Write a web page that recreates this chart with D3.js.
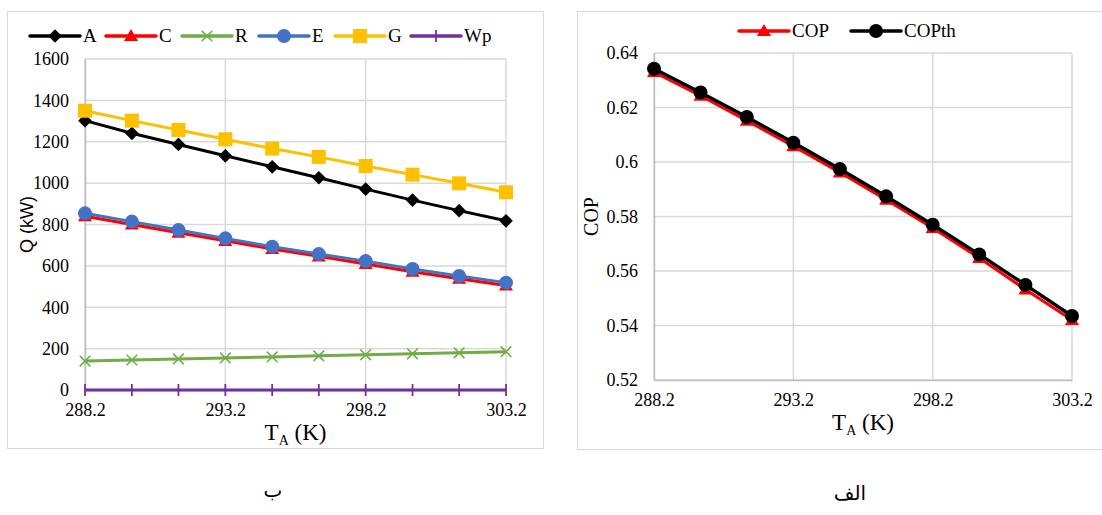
<!DOCTYPE html>
<html>
<head>
<meta charset="utf-8">
<script src="https://cdn.jsdelivr.net/npm/d3@7"></script>
<style>
  body { margin: 0; background: #fff; }
  svg { display: block; }
</style>
</head>
<body>
<svg width="1102" height="515"></svg>
<script>
// temperatures (K)
var temps = [288.2, 289.87, 291.53, 293.2, 294.87, 296.53, 298.2, 299.87, 301.53, 303.2];

// left chart (Q, kW)
var qA  = [1302, 1241, 1187, 1132, 1079, 1026, 971, 918, 867, 818];
var qC  = [840, 800, 760, 721, 682, 646, 609, 572, 538, 505];
var qR  = [140, 145, 150, 155, 160, 165, 170, 175, 180, 185];
var qE  = [854, 814, 773, 733, 693, 657, 623, 585, 551, 519];
var qG  = [1350, 1302, 1257, 1212, 1167, 1127, 1083, 1041, 999, 956];
var qWp = [0, 0, 0, 0, 0, 0, 0, 0, 0, 0];
var qTicks = [0, 200, 400, 600, 800, 1000, 1200, 1400, 1600];

// right chart (COP)
var cop   = [0.633, 0.6243, 0.6152, 0.6058, 0.5962, 0.5862, 0.5758, 0.5648, 0.5532, 0.5420];
var copTh = [0.6342, 0.6255, 0.6165, 0.6071, 0.5974, 0.5874, 0.5770, 0.5661, 0.5549, 0.5435];
var copTicks = [0.52, 0.54, 0.56, 0.58, 0.6, 0.62, 0.64];

var xTicks = [288.2, 293.2, 298.2, 303.2];

var svg = d3.select("svg");
var serif = '"Liberation Serif", "Times New Roman", serif';

// outer frames
svg.append("rect").attr("x", 7.5).attr("y", 11.5).attr("width", 536).attr("height", 437)
  .attr("fill", "none").attr("stroke", "#d9d9d9");
svg.append("rect").attr("x", 577.5).attr("y", 11.5).attr("width", 540).attr("height", 438)
  .attr("fill", "none").attr("stroke", "#d9d9d9");

function marker(g, type, color, x, y) {
  if (type == "diamond") {
    g.append("path").attr("d", d3.symbol().type(d3.symbolDiamond2).size(120)())
      .attr("transform", "translate(" + x + "," + y + ")").attr("fill", color);
  } else if (type == "triangle") {
    g.append("path").attr("d", d3.symbol().type(d3.symbolTriangle).size(85)())
      .attr("transform", "translate(" + x + "," + (y + 1) + ")").attr("fill", color);
  } else if (type == "x") {
    g.append("path").attr("d", d3.symbol().type(d3.symbolTimes).size(75)())
      .attr("transform", "translate(" + x + "," + y + ")").attr("fill", "none")
      .attr("stroke", color).attr("stroke-width", 1.6);
  } else if (type == "circle") {
    g.append("circle").attr("cx", x).attr("cy", y).attr("r", 7).attr("fill", color);
  } else if (type == "square") {
    g.append("rect").attr("x", x - 7).attr("y", y - 7).attr("width", 14).attr("height", 14).attr("fill", color);
  } else if (type == "plus") {
    g.append("path").attr("d", "M" + x + "," + (y - 6) + "V" + (y + 6))
      .attr("stroke", color).attr("stroke-width", 1.8);
  }
}

function styleAxis(a) {
  a.select(".domain").attr("stroke", "#bfbfbf").attr("stroke-width", 1.5);
  a.selectAll(".tick text")
    .style("font-family", serif)
    .style("font-size", "18px")
    .style("fill", "#000");
}

function drawChart(opt) {
  var xs = d3.scaleLinear().domain([288.2, 303.2]).range([opt.left, opt.right]);
  var ys = d3.scaleLinear().domain(opt.ydomain).range([opt.bottom, opt.top]);
  var g = svg.append("g");

  // gridlines
  g.selectAll(".hg").data(opt.yticks).enter().append("line")
    .attr("x1", opt.left).attr("x2", opt.right)
    .attr("y1", d => ys(d)).attr("y2", d => ys(d))
    .attr("stroke", "#d9d9d9").attr("stroke-width", 1.5);
  g.selectAll(".vg").data(xTicks).enter().append("line")
    .attr("x1", d => xs(d)).attr("x2", d => xs(d))
    .attr("y1", opt.top).attr("y2", opt.bottom)
    .attr("stroke", "#d9d9d9").attr("stroke-width", 1.5);

  // axes
  var ya = g.append("g").attr("transform", "translate(" + opt.left + ",0)")
    .call(d3.axisLeft(ys).tickValues(opt.yticks).tickSize(0).tickPadding(16).tickFormat(opt.yfmt));
  styleAxis(ya);
  var xa = g.append("g").attr("transform", "translate(0," + opt.bottom + ")")
    .call(d3.axisBottom(xs).tickValues(xTicks).tickSize(0).tickPadding(13).tickFormat(d3.format(".1f")));
  styleAxis(xa);

  // series
  opt.series.forEach(function(s) {
    g.append("path").datum(s.values)
      .attr("fill", "none").attr("stroke", s.color).attr("stroke-width", s.width || 3)
      .attr("d", d3.line().x((d, i) => xs(temps[i])).y(d => ys(d)));
    s.values.forEach(function(v, i) { marker(g, s.marker, s.color, xs(temps[i]), ys(v)); });
  });

  // x label
  var xl = g.append("text").attr("x", (opt.left + opt.right) / 2).attr("y", opt.bottom + 50)
    .attr("text-anchor", "middle").style("font-family", serif).style("font-size", "23px");
  xl.append("tspan").text("T");
  xl.append("tspan").style("font-size", "14px").attr("dy", 5).text("A");
  xl.append("tspan").attr("dy", -5).text(" (K)");

  // y label
  g.append("text").attr("transform", "translate(" + opt.ylabelX + "," + ((opt.top + opt.bottom) / 2) + ") rotate(-90)")
    .attr("text-anchor", "middle").style("font-family", opt.ylabelFont).style("font-size", opt.ylabelSize).text(opt.ylabel);

  // legend
  var lg = g.append("g");
  opt.series.forEach(function(s, i) {
    var lx = opt.legendX[i], ly = opt.legendY;
    lg.append("line").attr("x1", lx).attr("x2", lx + 50).attr("y1", ly).attr("y2", ly)
      .attr("stroke", s.color).attr("stroke-width", 3.5).attr("stroke-linecap", "round");
    marker(lg, s.marker, s.color, lx + 25, ly);
    lg.append("text").attr("x", lx + 53).attr("y", ly + 6).style("font-family", serif)
      .style("font-size", "19px").text(s.name);
  });
}

drawChart({
  left: 85, right: 506, top: 59, bottom: 390,
  ydomain: [0, 1600], yticks: qTicks, yfmt: d3.format("d"),
  ylabel: "Q (kW)", ylabelX: 33, ylabelFont: '"Liberation Sans", Arial, sans-serif', ylabelSize: "18px",
  legendX: [30, 106, 182, 259, 335, 411], legendY: 36,
  series: [
    { name: "A", values: qA, color: "#000000", marker: "diamond" },
    { name: "C", values: qC, color: "#ff0000", marker: "triangle" },
    { name: "R", values: qR, color: "#70ad47", marker: "x" },
    { name: "E", values: qE, color: "#4472c4", marker: "circle" },
    { name: "G", values: qG, color: "#ffc000", marker: "square" },
    { name: "Wp", values: qWp, color: "#7030a0", marker: "plus" }
  ]
});

drawChart({
  left: 654, right: 1072, top: 53, bottom: 380,
  ydomain: [0.52, 0.64], yticks: copTicks, yfmt: d3.format("~g"),
  ylabel: "COP", ylabelX: 598, ylabelFont: serif, ylabelSize: "20px",
  legendX: [739, 851], legendY: 31,
  series: [
    { name: "COP", values: cop, color: "#ff0000", marker: "triangle" },
    { name: "COPth", values: copTh, color: "#000000", marker: "circle", width: 3.5 }
  ]
});

// panel captions
svg.append("text").attr("x", 273).attr("y", 497).attr("text-anchor", "middle")
  .style("font-family", '"DejaVu Sans", "Noto Sans", sans-serif').style("font-size", "20px").text("ب");
svg.append("text").attr("x", 850).attr("y", 500).attr("text-anchor", "middle")
  .style("font-family", '"DejaVu Sans", "Noto Sans", sans-serif').style("font-size", "20px").text("الف");
</script>
</body>
</html>
